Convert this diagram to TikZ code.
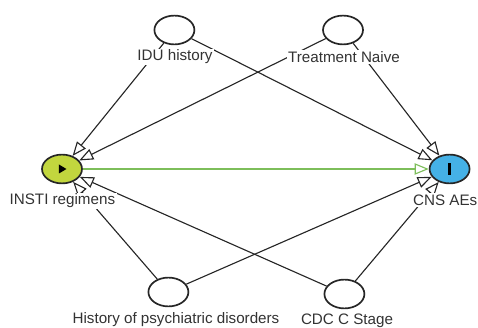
\documentclass[tikz,border=0pt]{standalone}
\usepackage{fontspec}
\setmainfont{Liberation Sans}
\usepackage{xcolor}
\usepackage{tikz}
\usetikzlibrary{positioning,calc,arrows.meta,shapes.geometric}

\definecolor{expfill}{HTML}{C2D63E}
\definecolor{outfill}{HTML}{45B1E6}
\definecolor{causal}{HTML}{7DBE5A}
\definecolor{txt}{HTML}{333333}

\begin{document}
\begin{tikzpicture}[
							var/.style={ellipse, draw=black!85, line width=1.2pt, minimum width=1.0cm, minimum height=0.72cm, inner sep=0pt, fill=white},
							exposure/.style={var, fill=expfill},
							outcome/.style={var, fill=outfill},
							arrow/.style={-{Triangle[open, length=10pt, width=8pt]}, black!85, line width=0.8pt},
							greenarrow/.style={-{Triangle[open, length=10pt, width=8pt]}, causal, line width=0.8pt},
							labeltext/.style={font=\fontsize{10.8}{12}\selectfont, text=txt, fill=white, inner sep=1pt}
							]
							\useasboundingbox (0,0) rectangle (11.95,8.2);
							% ===== VARIABLES =====
							\node[exposure] (insti) at (1.55,3.975) {};
							\node[outcome]  (cns)   at (11.24,3.975) {};
							
							\node[var] (idu)   at (4.36,7.45) {};   % oben links
							\node[var] (naive) at (8.575,7.45) {};  % oben rechts
							\node[var] (psych) at (4.21,0.9) {};    % unten links
							\node[var] (cdc)   at (8.61,0.85) {};   % unten rechts
							
							% ===== SYMBOLS IN EXPOSURE / OUTCOME =====
							\fill ([xshift=-2.2pt,yshift=3.2pt]insti.center) -- ([xshift=3.2pt]insti.center) -- ([xshift=-2.2pt,yshift=-3.2pt]insti.center) -- cycle;
							\fill ([xshift=-1.2pt,yshift=-4pt]cns.center) rectangle ([xshift=1.2pt,yshift=4pt]cns.center);
							
							% ===== ARROWS =====
							\draw[arrow] (idu) -- (insti);
							\draw[arrow] (idu) -- (cns);
							\draw[arrow] (naive) -- (insti);
							\draw[arrow] (naive) -- (cns);
							\draw[arrow] (psych) -- (insti);
							\draw[arrow] (psych) -- (cns);
							\draw[arrow] (cdc) -- (insti);
							\draw[arrow] (cdc) -- (cns);
							
							\draw[greenarrow] (insti) -- (cns);
							
							% ===== LABELS =====
							\node[labeltext] (lblidu)   at (4.375,6.775) {IDU history};
							\node[labeltext] (lblnaive) at (8.6,6.775) {Treatment Naive};
							\node[labeltext] (lblinsti) at (1.56,3.175) {INSTI regimens};
							\node[labeltext] (lblcns)   at (11.13,3.2) {CNS AEs};
							\node[labeltext] (lblpsych) at (4.4,0.2) {History of psychiatric disorders};
							\node[labeltext] (lblcdc)   at (8.675,0.175) {CDC C Stage};
							
						\end{tikzpicture}
\end{document}
